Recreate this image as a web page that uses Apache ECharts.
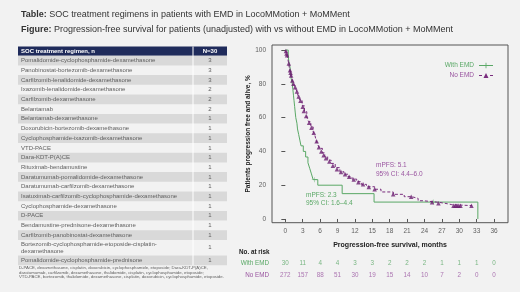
<!DOCTYPE html>
<html>
<head>
<meta charset="utf-8">
<script src="https://cdn.jsdelivr.net/npm/echarts@6/dist/echarts.min.js"></script>
<style>
html, body { margin: 0; padding: 0; background: #f2f2f2; }
#main { width: 520px; height: 292px; }
</style>
</head>
<body>
<div id="main"></div>
<script>
// --- data ---
var regimens = [
    'Pomalidomide-cyclophosphamide-dexamethasone',
    'Panobinostat-bortezomib-dexamethasone',
    'Carfilzomib-lenalidomide-dexamethasone',
    'Ixazomib-lenalidomide-dexamethasone',
    'Carfilzomib-dexamethasone',
    'Belantamab',
    'Belantamab-dexamethasone',
    'Doxorubicin-bortezomib-dexamethasone',
    'Cyclophosphamide-ixazomib-dexamethasone',
    'VTD-PACE',
    'Dara-KDT-P(A)CE',
    'Rituximab-bendamustine',
    'Daratumumab-pomalidomide-dexamethasone',
    'Daratumumab-carfilzomib-dexamethasone',
    'Isatuximab-carfilzomib-cyclophosphamide-dexamethasone',
    'Cyclophosphamide-dexamethasone',
    'D-PACE',
    'Bendamustine-prednisone-dexamethasone',
    'Carfilzomib-panobinostat-dexamethasone',
    'Bortezomib-cyclophosphamide-etoposide-cisplatin-\ndexamethasone',
    'Pomalidomide-cyclophosphamide-prednisone'
];
var regimenN = [3, 3, 3, 2, 2, 2, 1, 1, 1, 1, 1, 1, 1, 1, 1, 1, 1, 1, 1, 1, 1];

var footnote = [
    'D-PACE, dexamethasone, cisplatin, doxorubicin, cyclophosphamide, etoposide; Dara-KDT-P(A)CE,',
    'daratumumab, carfilzomib, dexamethasone, thalidomide, cisplatin, cyclophosphamide, etoposide;',
    'VTD-PACE, bortezomib, thalidomide, dexamethasone, cisplatin, doxorubicin, cyclophosphamide, etoposide.'
];

// Kaplan-Meier steps [month, % free and alive]
var withEmdKm = [[0, 100], [0.5, 96.7], [0.6, 93.3], [0.8, 90], [0.9, 86.7], [1.0, 83.3], [1.2, 80],
    [1.3, 76.7], [1.4, 73.3], [1.5, 70], [1.6, 66.7], [1.7, 63.3], [1.8, 60], [2.0, 56.7], [2.1, 53.3],
    [2.3, 50], [2.5, 46.7], [2.7, 43.3], [3.1, 40], [3.5, 36.7], [3.9, 33.3], [4.2, 30], [4.5, 26.7],
    [4.8, 23.3], [5.6, 20], [9.8, 15], [15.3, 10], [33.2, 0]];
var withEmdCensor = [[5.0, 23.3], [25.5, 10]];

var noEmdKm = [[0, 100], [0.3, 97], [0.5, 93.5], [0.75, 88.2], [1.0, 84.5], [1.3, 81.2], [1.6, 78.5],
    [1.9, 76.3], [2.2, 73], [2.5, 70.4], [2.9, 67], [3.3, 63.5], [3.7, 60.5], [4.0, 57.6], [4.4, 54.5],
    [4.8, 51.7], [5.1, 49.5], [5.3, 46.7], [5.6, 44], [5.9, 41.8], [6.4, 39.2], [6.8, 36.9], [7.3, 34.8],
    [7.9, 32.9], [8.6, 30.4], [9.4, 28], [10.1, 26.5], [10.8, 25], [11.5, 23.6], [12.3, 22.1],
    [13.1, 20.5], [14.0, 19.1], [15.4, 17.6], [16.5, 16], [18.6, 14.6], [20.5, 13.2], [21.8, 12.2],
    [22.9, 10.8], [23.8, 9.9], [26.4, 9.3], [27.5, 8.5], [28.7, 7.9], [32.2, 7.9]];
var noEmdCensor = [[0.1, 99.5], [0.2, 98], [0.3, 97], [0.6, 92], [0.8, 88], [0.9, 86.5], [1.0, 85],
    [1.2, 82], [1.4, 80], [1.7, 78], [2.0, 75.5], [2.3, 72.5], [2.6, 70], [3.0, 66.5], [3.2, 64],
    [3.6, 61], [4.1, 57], [4.5, 54], [4.9, 51], [5.4, 46], [5.8, 42.5], [6.2, 40], [6.6, 37.8],
    [7.0, 36], [7.6, 34], [8.2, 31.5], [8.9, 29.5], [9.6, 27.8], [10.3, 26.5], [11, 25], [11.8, 23.4],
    [12.6, 21.8], [13.4, 20.5], [14.4, 19], [15.4, 17.6], [18.6, 14.6], [21.7, 13.2], [25.3, 9.9],
    [26.4, 9.3], [29.0, 7.9], [29.3, 7.9], [29.6, 7.9], [29.9, 7.9], [30.2, 7.9], [32.1, 7.9]];

var monthTicks = [0, 3, 6, 9, 12, 15, 18, 21, 24, 27, 30, 33, 36];
var pctTicks = [0, 20, 40, 60, 80, 100];
var withRisk = [30, 11, 4, 4, 3, 3, 2, 2, 2, 1, 1, 1, 0];
var noRisk = [272, 157, 88, 51, 30, 19, 15, 14, 10, 7, 2, 0, 0];

var FONT = 'Liberation Sans, Arial, sans-serif';
var GREEN = '#5aa866';
var PURPLE = '#7a2d7e';
var PURPLE_TXT = '#9a55a0';
var GREY = '#606060';

// --- table on the left, drawn as graphic elements ---
var tableEls = [];
var tx = 18, tw = 209, nx = 193, rowH = 9.7, headTop = 46.5, headH = 9.2;
tableEls.push({ type: 'rect', shape: { x: tx, y: headTop, width: tw, height: headH }, style: { fill: '#1f2b5b' } });
tableEls.push({ type: 'text', x: 21, y: headTop + headH / 2,
    style: { text: 'SOC treatment regimen, n', fill: '#fff', font: 'bold 6px ' + FONT, verticalAlign: 'middle' } });
tableEls.push({ type: 'text', x: (nx + tx + tw) / 2, y: headTop + headH / 2,
    style: { text: 'N=30', fill: '#fff', font: 'bold 6px ' + FONT, align: 'center', verticalAlign: 'middle' } });
var ry = headTop + headH;
regimens.forEach(function (name, i) {
    var h = name.indexOf('\n') >= 0 ? 15.5 : rowH;
    if (i % 2 === 0) {
        tableEls.push({ type: 'rect', shape: { x: tx, y: ry, width: tw, height: h }, style: { fill: '#d9d9d9' } });
    }
    tableEls.push({ type: 'text', x: 21, y: ry + h / 2,
        style: { text: name, fill: GREY, font: '6px ' + FONT, verticalAlign: 'middle', lineHeight: 7 } });
    tableEls.push({ type: 'text', x: (nx + tx + tw) / 2, y: ry + h / 2,
        style: { text: String(regimenN[i]), fill: GREY, font: '6px ' + FONT, align: 'center', verticalAlign: 'middle' } });
    ry += h;
});
tableEls.push({ type: 'line', shape: { x1: nx, y1: headTop, x2: nx, y2: ry }, style: { stroke: '#fff', lineWidth: 1 } });
footnote.forEach(function (line, i) {
    tableEls.push({ type: 'text', x: 19, y: ry + 3 + i * 4.4,
        style: { text: line, fill: GREY, font: '4.3px ' + FONT, verticalAlign: 'middle' } });
});

// titles, risk label, mPFS notes
var textEls = [
    { type: 'text', x: 21, y: 15, style: { text: '{b|Table:} SOC treatment regimens in patients with EMD in LocoMMotion + MoMMent',
        rich: { b: { fontWeight: 'bold', fontSize: 9, fontFamily: FONT, fill: '#333' } },
        font: '9px ' + FONT, fill: '#333', verticalAlign: 'middle' } },
    { type: 'text', x: 21, y: 30, style: { text: '{b|Figure:} Progression-free survival for patients (unadjusted) with vs without EMD in LocoMMotion + MoMMent',
        rich: { b: { fontWeight: 'bold', fontSize: 9, fontFamily: FONT, fill: '#333' } },
        font: '9px ' + FONT, fill: '#333', verticalAlign: 'middle' } },
    { type: 'text', x: 239, y: 252, style: { text: 'No. at risk', font: 'bold 6.3px ' + FONT, fill: '#222', verticalAlign: 'middle' } },
    { type: 'text', x: 376, y: 165, style: { text: 'mPFS: 5.1', font: '6.5px ' + FONT, fill: PURPLE_TXT, verticalAlign: 'middle' } },
    { type: 'text', x: 376, y: 174, style: { text: '95% CI: 4.4\u20136.0', font: '6.5px ' + FONT, fill: PURPLE_TXT, verticalAlign: 'middle' } },
    { type: 'text', x: 306, y: 195, style: { text: 'mPFS: 2.3', font: '6.5px ' + FONT, fill: GREEN, verticalAlign: 'middle' } },
    { type: 'text', x: 306, y: 203.5, style: { text: '95% CI: 1.6\u20134.4', font: '6.5px ' + FONT, fill: GREEN, verticalAlign: 'middle' } }
];

var riskWith = monthTicks.map(function (m, i) { return [m, 'With EMD', withRisk[i]]; });
var riskNo = monthTicks.map(function (m, i) { return [m, 'No EMD', noRisk[i]]; });

var option = {
    backgroundColor: '#f2f2f2',
    animation: false,
    textStyle: { fontFamily: FONT },
    graphic: tableEls.concat(textEls),
    legend: {
        orient: 'vertical', align: 'right', right: 27, top: 62, padding: 0,
        itemWidth: 14, itemHeight: 6, itemGap: 3,
        textStyle: { fontSize: 6.5, fontFamily: FONT, padding: [0, 0, 0, 0] },
        data: [
            { name: 'With EMD', icon: 'path://M0,2.6H14V3.4H0ZM6.6,0.2H7.4V5.8H6.6Z', textStyle: { color: GREEN } },
            { name: 'No EMD', icon: 'path://M0,2.6H3V3.4H0ZM11,2.6H14V3.4H11ZM4.5,5.5L7,0.5L9.5,5.5Z', textStyle: { color: PURPLE_TXT } }
        ]
    },
    grid: [
        { left: 272, right: 12, top: 45, bottom: 69.3, show: true, borderColor: '#555', borderWidth: 1, backgroundColor: 'transparent' },
        { left: 272, right: 12, top: 256.6, height: 25.4 }
    ],
    xAxis: [{
        gridIndex: 0, type: 'value', min: -2.3, max: 38.4,
        name: 'Progression-free survival, months', nameLocation: 'middle', nameGap: 19,
        nameTextStyle: { fontWeight: 'bold', fontSize: 7, color: '#222' },
        axisLine: { show: false }, splitLine: { show: false },
        axisTick: { show: true, length: 3, lineStyle: { color: '#555' }, customValues: monthTicks },
        axisLabel: { fontSize: 6.5, color: GREY, margin: 5, customValues: monthTicks }
    }, {
        gridIndex: 1, type: 'value', min: -2.3, max: 38.4, show: false
    }],
    yAxis: [{
        gridIndex: 0, type: 'value', min: -2.2, max: 103,
        name: 'Patients progression free and alive, %', nameLocation: 'middle', nameGap: 19, nameRotate: 90,
        nameTextStyle: { fontWeight: 'bold', fontSize: 6.5, color: '#222' },
        axisLine: { show: false }, splitLine: { show: false },
        axisTick: { show: true, length: 4, lineStyle: { color: '#555' }, customValues: pctTicks },
        axisLabel: { fontSize: 6.5, color: GREY, margin: 6, customValues: pctTicks }
    }, {
        gridIndex: 1, type: 'category', data: ['No EMD', 'With EMD'],
        axisLine: { show: false }, axisTick: { show: false },
        axisLabel: { fontSize: 6.3, margin: 3, color: function (v) { return v === 'With EMD' ? GREEN : PURPLE_TXT; } }
    }],
    series: [
        {
            name: 'With EMD', type: 'line', step: 'end', data: withEmdKm, showSymbol: false, symbol: 'none',
            itemStyle: { color: GREEN }, lineStyle: { color: GREEN, width: 1 }, z: 3
        },
        {
            name: 'With EMD censored', type: 'scatter', data: withEmdCensor,
            symbol: 'path://M0,4.5H10V5.5H0ZM4.5,0H5.5V10H4.5Z', symbolSize: 5, itemStyle: { color: GREEN }, z: 3
        },
        {
            name: 'No EMD', type: 'line', step: 'end', data: noEmdKm, showSymbol: false, symbol: 'none',
            itemStyle: { color: PURPLE }, lineStyle: { color: PURPLE, width: 1, type: [3, 2] }, z: 4
        },
        {
            name: 'No EMD censored', type: 'scatter', data: noEmdCensor,
            symbol: 'triangle', symbolSize: 4.5, itemStyle: { color: '#6b1f70' }, z: 5
        },
        {
            name: 'risk with', type: 'scatter', xAxisIndex: 1, yAxisIndex: 1, data: riskWith, symbolSize: 0,
            label: { show: true, position: 'inside', fontSize: 6.3, color: GREEN, formatter: function (p) { return p.value[2]; } }
        },
        {
            name: 'risk no', type: 'scatter', xAxisIndex: 1, yAxisIndex: 1, data: riskNo, symbolSize: 0,
            label: { show: true, position: 'inside', fontSize: 6.3, color: PURPLE_TXT, formatter: function (p) { return p.value[2]; } }
        }
    ]
};

var myChart = echarts.init(document.getElementById('main'));
myChart.setOption(option, true);
</script>
</body>
</html>
